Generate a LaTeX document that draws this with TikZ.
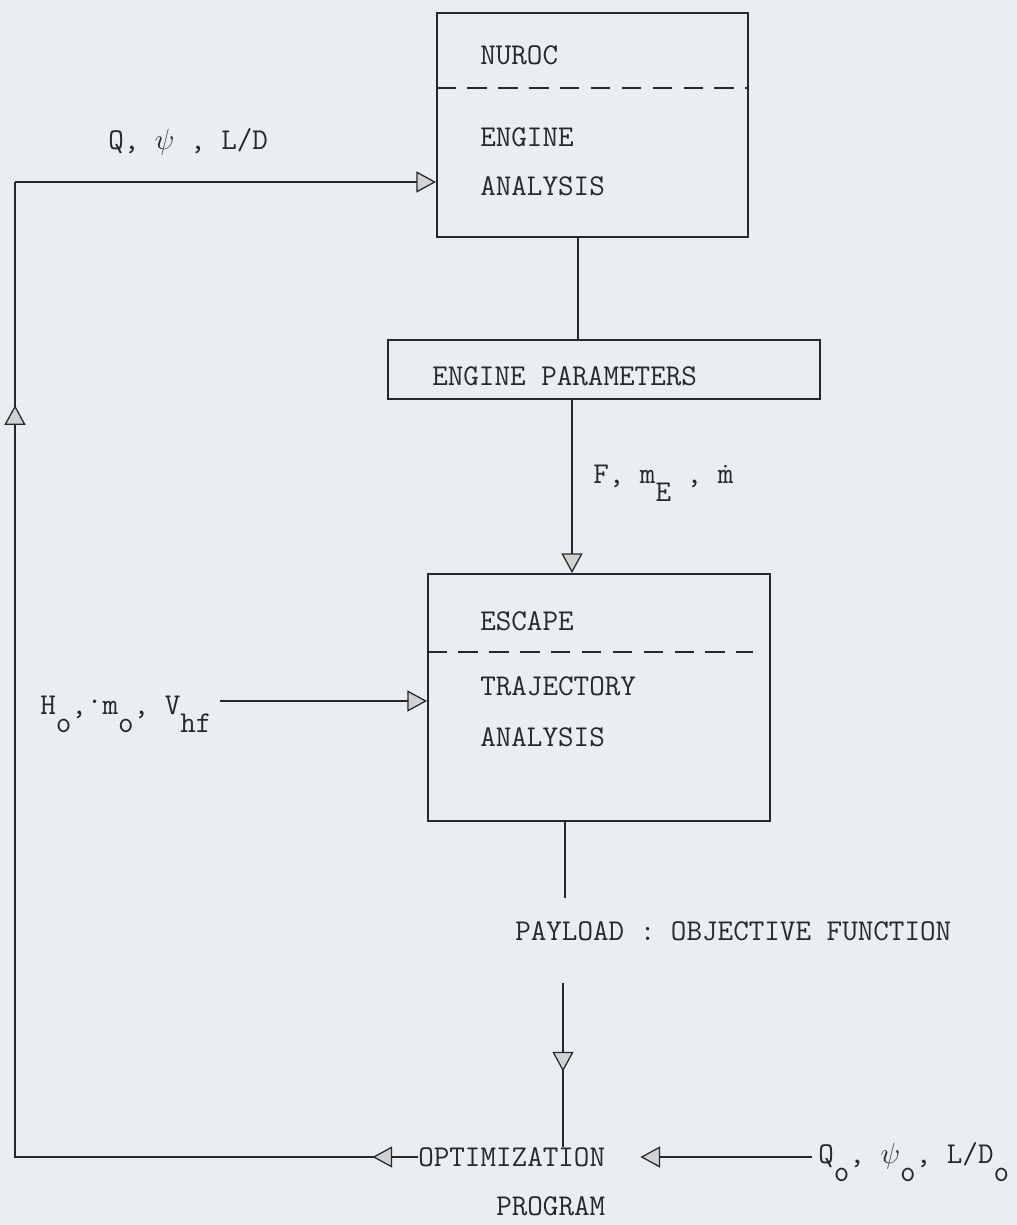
\documentclass[tikz,border=0pt]{standalone}
\usepackage{tikz}
\usetikzlibrary{calc,arrows.meta,positioning,decorations.markings}
\definecolor{ink}{RGB}{40,40,44}
\definecolor{paper}{RGB}{233,238,240}
\newcommand{\tsub}[1]{\raisebox{-0.6em}{#1}}

\begin{document}
\begin{tikzpicture}[x=0.025cm,y=-0.025cm,
      every node/.style={font=\ttfamily\fontsize{21.5}{26}\selectfont,text=ink},
      box/.style={draw=ink,line width=1.3pt,inner sep=0pt},
      txt/.style={anchor=base west,inner sep=0pt},
      sep/.style={draw=ink,line width=1.5pt,dash pattern=on 14pt off 8pt},
      link/.style={draw=ink,line width=0.9pt},
      feed/.style={draw=ink,line width=1.8pt},
      midarrow/.style={postaction={decorate,decoration={markings,mark=at position #1 with {\arrow{>}}}}},
      >={Triangle[length=14pt,width=15pt,fill=gray!35,line width=0.9pt]}]
      \fill[paper] (0,0) rectangle (1017,1225);
      \useasboundingbox (0,0) rectangle (1017,1225);

      \node[box,minimum width=7.775cm,minimum height=5.6cm] (nuroc) at (592.5,125) {};
      \node[txt] (nurocname) at (480,64) {NUROC};
      \node[txt] (engine) at (480,146) {ENGINE};
      \node[txt] (engineana) at (480,195) {ANALYSIS};
      \draw[sep] (nuroc.west |- 0,88) -- (nuroc.east |- 0,88);

      \node[box,minimum width=10.8cm,minimum height=1.475cm] (ep) at (604,369.5) {};
      \node[txt] (eptext) at (432,385) {ENGINE PARAMETERS};

      \node[box,minimum width=8.55cm,minimum height=6.175cm] (escape) at (599,697.5) {};
      \node[txt] (escname) at (480,630) {ESCAPE};
      \node[txt] (traj) at (480,695) {TRAJECTORY};
      \node[txt] (trajana) at (480,746) {ANALYSIS};
      \draw[sep] (escape.west |- 0,652) -- (753,652);

      \node[txt] (qpsi) at (108,149) {Q, $\psi$ , L/D};
      \node[txt] (fm) at (593,483) {F, m\tsub{E} , \.{m}};
      \node[txt] (hin) at (40,714) {H\tsub{o},\raisebox{0.35em}{.}m\tsub{o}, V\tsub{hf}};
      \node[txt] (pay) at (515,940) {PAYLOAD : OBJECTIVE FUNCTION};
      \node[txt] (opt) at (418,1166) {OPTIMIZATION};
      \node[txt] (prog) at (496,1215) {PROGRAM};
      \node[txt] (qo) at (818,1163) {Q\tsub{o}, $\psi$\tsub{o}, L/D\tsub{o}};

      \coordinate (tl) at (15,182);
      \coordinate (bl) at (15,1157);
      \coordinate (hstart) at (220,701);
      \coordinate (qstart) at (812,1157);
      \coordinate (pl) at (565,898);
      \coordinate (pl2) at (563,983);

      \draw[feed,->] (tl) -- (nuroc.west |- tl);
      \draw[link] (nuroc.south -| 578,0) -- (ep.north -| 578,0);
      \draw[link,->] (ep.south -| 572,0) -- (escape.north -| 572,0);
      \draw[feed,->] (hstart) -- (escape.west |- hstart);
      \draw[link] (escape.south -| pl) -- (pl);
      \draw[link,midarrow=0.54] (pl2) -- (opt.north -| pl2);
      \draw[feed,->,shorten >=0.875cm] (qstart) -- (opt.east |- qstart);
      \draw[feed,line join=miter,midarrow=0.033,midarrow=0.838] (opt.west |- bl) -- (bl) -- (tl);
    \end{tikzpicture}
\end{document}
